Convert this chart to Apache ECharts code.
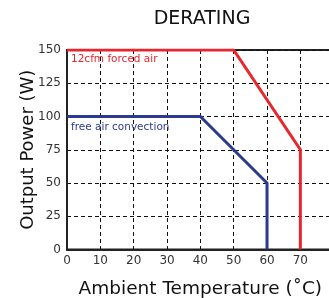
<!DOCTYPE html>
<html>
<head>
<meta charset="utf-8">
<script src="https://cdn.jsdelivr.net/npm/echarts@6/dist/echarts.min.js"></script>
<style>
  html, body { margin: 0; padding: 0; background: #fff; }
  #chart { width: 329px; height: 298px; }
</style>
</head>
<body>
<div id="chart"></div>
<script>
// derating curves: [ambient temp, output power]
const forcedAir = [[0, 150], [50, 150], [70, 75], [70, 0]];
const freeAir = [[0, 100], [40, 100], [60, 50], [60, 0]];
const forcedLabel = '12cfm forced air';
const freeLabel = 'free air convection';

const font = 'DejaVu Sans';
const chart = echarts.init(document.getElementById('chart'));

const dashed = { show: true, lineStyle: { type: [4, 3], color: '#111', width: 1 } };

chart.setOption({
  animation: false,
  title: {
    text: 'DERATING',
    left: 197,
    textAlign: 'center',
    top: 5,
    textStyle: { fontFamily: font, fontSize: 19, fontWeight: 'normal', color: '#111' },
  },
  grid: {
    left: 67,
    top: 50,
    bottom: 48.5,
    right: -4.7,
    outerBoundsMode: 'none',
    containLabel: false,
    show: true,
    borderColor: '#222',
    borderWidth: 2,
  },
  xAxis: {
    type: 'value',
    min: 0,
    max: 80,
    interval: 10,
    name: 'Ambient Temperature (˚C)',
    nameLocation: 'middle',
    nameGap: 30,
    nameTextStyle: { fontFamily: font, fontSize: 18.5, color: '#111' },
    axisLine: { lineStyle: { color: '#222', width: 2 } },
    axisTick: { show: false },
    axisLabel: { fontFamily: font, fontSize: 12, color: '#333', margin: 5, showMaxLabel: false },
    splitLine: dashed,
  },
  yAxis: {
    type: 'value',
    min: 0,
    max: 150,
    interval: 25,
    name: 'Output Power (W)',
    nameLocation: 'middle',
    nameGap: 30,
    nameMoveOverlap: false,
    nameTextStyle: { fontFamily: font, fontSize: 18, color: '#111' },
    axisLine: { show: true, lineStyle: { color: '#222', width: 2 } },
    axisTick: { show: false },
    axisLabel: { fontFamily: font, fontSize: 12, color: '#333', margin: 6 },
    splitLine: dashed,
  },
  series: [
    {
      type: 'line',
      data: freeAir,
      symbol: 'none',
      lineStyle: { color: '#2b3990', width: 3, join: 'miter' },
      markPoint: {
        symbol: 'circle',
        symbolSize: 0,
        data: [{ coord: freeAir[0] }],
        label: {
          show: true,
          formatter: freeLabel,
          position: 'right',
          offset: [-1, 10.5],
          fontFamily: font,
          fontSize: 10.5,
          color: '#2b3990',
        },
      },
    },
    {
      type: 'line',
      data: forcedAir,
      symbol: 'none',
      lineStyle: { color: '#e8262e', width: 3, join: 'miter' },
      markPoint: {
        symbol: 'circle',
        symbolSize: 0,
        data: [{ coord: forcedAir[0] }],
        label: {
          show: true,
          formatter: forcedLabel,
          position: 'right',
          offset: [-1, 9],
          fontFamily: font,
          fontSize: 10.5,
          color: '#e8262e',
        },
      },
    },
  ],
});
</script>
</body>
</html>
